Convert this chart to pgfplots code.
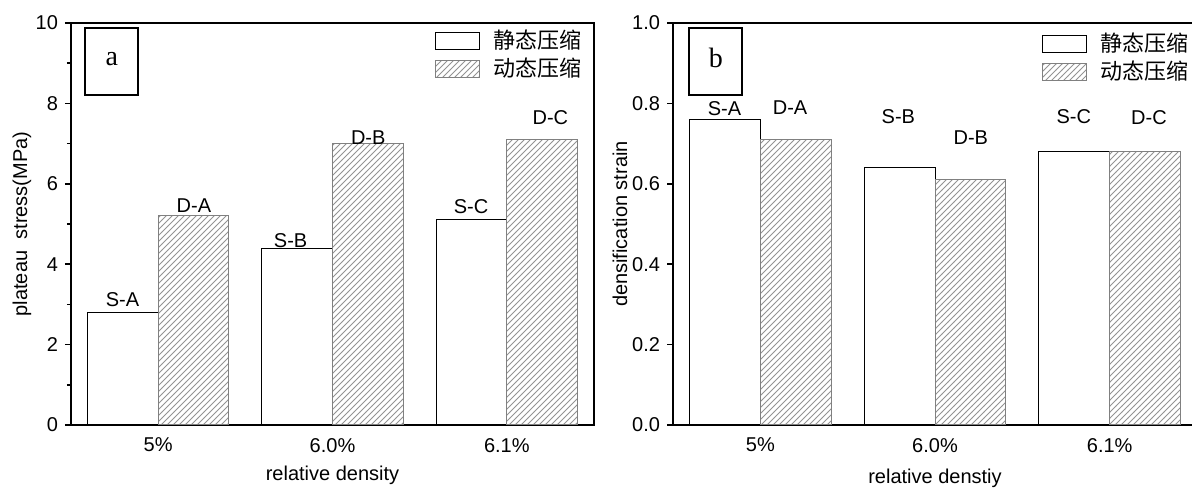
\documentclass[border=0pt]{standalone}
\usepackage{pgfplots}
\pgfplotsset{compat=1.18}
\usepackage{fontspec}
\setmainfont{Liberation Sans}
\newfontfamily\cjk{Noto Sans CJK SC}
\newfontfamily\timesf{Liberation Serif}
\usetikzlibrary{patterns}

\pgfplotsset{
  mybase/.style={
    scale only axis,
    height=201pt,
    xmin=-0.5, xmax=2.5,
    ymin=0,
    xtick={0,1,2},
    xticklabels={5\%,6.0\%,6.1\%},
    xtick style={draw=none},
    ytick pos=left,
    xtick pos=bottom,
    tick align=outside,
    major tick length=3pt,
    minor tick length=2pt,
    every tick/.style={black, line width=0.75pt},
    axis line style={line width=1pt},
    ybar, bar width=0.405,
    /pgf/number format/assume math mode=true,
    tick label style={font=\fontsize{10}{12}\selectfont},
    label style={font=\fontsize{10}{12}\selectfont},
    legend style={draw=none, fill=none, at={(1,1)}, anchor=north east,
      font=\fontsize{11}{13}\selectfont\cjk, nodes={inner sep=1.5pt},
      /tikz/every odd column/.append style={column sep=5.5pt}},
    legend cell align=left,
    legend image code/.code={\draw[##1] (0pt,-4.25pt) rectangle (22pt,4.25pt);},
  },
  sbar/.style={fill=white, draw=black, line width=0.5pt, bar shift=-0.2025},
  dbar/.style={pattern=north east lines, pattern color=gray!85, draw=gray, line width=0.5pt, bar shift=0.2025},
}

\begin{document}
\begin{tikzpicture}
% ---------------- panel a ----------------
\begin{axis}[mybase,
  at={(35.5pt,32.5pt)}, anchor=south west,
  width=261.5pt,
  ymax=10,
  ytick={0,2,4,6,8,10},
  minor ytick={1,3,5,7,9},
  ylabel={plateau\ \ stress(MPa)},
  xlabel={relative density},
  legend style={xshift=-1.5pt, yshift=0pt},
  every axis y label/.style={at={(axis description cs:-0.094,0.5)}, rotate=90, anchor=center},
  every axis x label/.style={at={(axis description cs:0.5,-0.124)}, anchor=center},
]
\addplot[sbar] coordinates {(0,2.8) (1,4.4) (2,5.1)};
\addlegendentry{静态压缩}
\addplot[dbar] coordinates {(0,5.2) (1,7.0) (2,7.1)};
\addlegendentry{动态压缩}
\node[font=\fontsize{10}{12}\selectfont] at (axis cs:-0.205,3.13) {S-A};
\node[font=\fontsize{10}{12}\selectfont] at (axis cs:0.205,5.45) {D-A};
\node[font=\fontsize{10}{12}\selectfont] at (axis cs:0.76,4.58) {S-B};
\node[font=\fontsize{10}{12}\selectfont] at (axis cs:1.205,7.16) {D-B};
\node[font=\fontsize{10}{12}\selectfont] at (axis cs:1.795,5.42) {S-C};
\node[font=\fontsize{10}{12}\selectfont] at (axis cs:2.25,7.64) {D-C};
\draw[line width=1pt] (axis cs:-0.418,9.875) rectangle (axis cs:-0.115,8.21);
\node[font=\fontsize{14}{16}\selectfont\timesf] at (axis cs:-0.266,9.1) {a};
\end{axis}
% ---------------- panel b ----------------
\begin{axis}[mybase,
  at={(336.5pt,32.5pt)}, anchor=south west,
  width=262pt,
  ymax=1.0,
  ytick={0,0.2,0.4,0.6,0.8,1.0},
  yticklabel style={/pgf/number format/.cd, fixed, fixed zerofill, precision=1},
  ylabel={densification strain},
  xlabel={relative denstiy},
  legend style={xshift=0.5pt, yshift=-1.5pt},
  every axis y label/.style={at={(axis description cs:-0.101,0.5)}, rotate=90, anchor=center},
  every axis x label/.style={at={(axis description cs:0.5,-0.132)}, anchor=center},
]
\addplot[sbar] coordinates {(0,0.76) (1,0.64) (2,0.68)};
\addlegendentry{静态压缩}
\addplot[dbar] coordinates {(0,0.71) (1,0.61) (2,0.68)};
\addlegendentry{动态压缩}
\node[font=\fontsize{10}{12}\selectfont] at (axis cs:-0.205,0.788) {S-A};
\node[font=\fontsize{10}{12}\selectfont] at (axis cs:0.17,0.79) {D-A};
\node[font=\fontsize{10}{12}\selectfont] at (axis cs:0.79,0.767) {S-B};
\node[font=\fontsize{10}{12}\selectfont] at (axis cs:1.205,0.716) {D-B};
\node[font=\fontsize{10}{12}\selectfont] at (axis cs:1.795,0.767) {S-C};
\node[font=\fontsize{10}{12}\selectfont] at (axis cs:2.225,0.765) {D-C};
\draw[line width=1pt] (axis cs:-0.408,0.9876) rectangle (axis cs:-0.103,0.821);
\node[font=\fontsize{14}{16}\selectfont\timesf] at (axis cs:-0.255,0.913) {b};
\end{axis}
\pgfresetboundingbox
\useasboundingbox (0,0) rectangle (596pt,245pt);
\end{tikzpicture}
\end{document}
